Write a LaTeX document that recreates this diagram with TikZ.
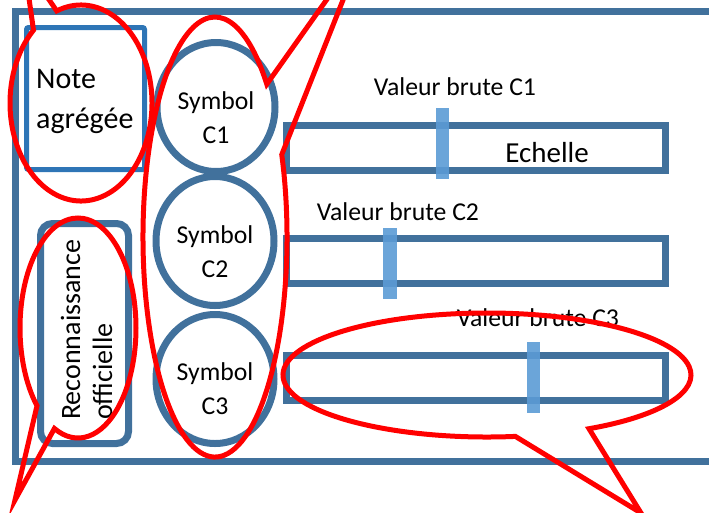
\documentclass[tikz,border=0pt]{standalone}
\usepackage{fontspec}
\setmainfont{Carlito}
\usetikzlibrary{shapes.geometric}
\definecolor{bleu}{HTML}{41719C}
\definecolor{bleuvif}{HTML}{2E75B6}
\definecolor{bleuclair}{HTML}{5B9BD5}

\begin{document}
\begin{tikzpicture}
  [x=1pt,y=-1pt,
   cadre/.style={draw=bleu,line width=7pt},
   symb/.style={ellipse,draw=bleu,line width=7pt,minimum width=118pt,minimum height=129pt,inner sep=0pt},
   barre/.style={rectangle,draw=bleu,line width=7pt,minimum width=379pt,minimum height=45pt,inner sep=0pt},
   curseur/.style={rectangle,fill=bleuclair,fill opacity=0.9,minimum width=13pt,minimum height=71pt,inner sep=0pt},
   etiq/.style={font=\fontsize{25.7}{34}\selectfont,inner sep=0pt,anchor=base},
   bulle/.style={draw=red,line width=5pt}]
  \useasboundingbox (0,0) rectangle (709,512);
  \clip (0,0) rectangle (709,512);

  % cadre
  \draw[cadre] (15,11) rectangle (740,461);

  % note et reconnaissance
  \node[draw=bleuvif,line width=5pt,rounded corners=2pt,minimum width=118pt,minimum height=142pt] (note) at (85.5,98.5) {};
  \node[anchor=base west,align=left,inner sep=0pt,font=\fontsize{30}{40}\selectfont] (tnote) at (36,128) {Note\\agrégée};
  \node[cadre,rounded corners=12pt,minimum width=88pt,minimum height=220pt] (reco) at (84.5,333.5) {};
  \node[rotate=90,anchor=base west,align=left,inner sep=0pt,font=\fontsize{28}{32}\selectfont]
        (treco) at (112,420) {Reconnaissance\\officielle};

  % symboles
  \node[symb] (s1) at (216,107) {};
  \node[symb] (s2) at (215,241) {};
  \node[symb] (s3) at (215,379) {};
  \node[etiq,align=center] (ts1) at (216,143) {Symbol\\C1};
  \node[etiq,align=center] (ts2) at (215,277) {Symbol\\C2};
  \node[etiq,align=center] (ts3) at (215,414) {Symbol\\C3};

  % echelles
  \node[barre] (e1) at (475.5,147.5) {};
  \node[barre] (e2) at (475.5,261) {};
  \node[barre] (e3) at (475.5,377.5) {};
  \node[curseur] (m1) at (442.5,143.5) {};
  \node[curseur,minimum width=14pt] (m2) at (389.5,263.5) {};
  \node[curseur] (m3) at (533.5,377.5) {};
  \node[etiq] (v1) at (455,95) {Valeur brute C1};
  \node[etiq] (v2) at (398,220) {Valeur brute C2};
  \node[etiq] (v3) at (538,326) {Valeur brute C3};
  \node[etiq,font=\fontsize{29}{34}\selectfont] (ech) at (547,162) {Echelle};

  % bulles
  \coordinate (pnote) at (24,-37);
  \coordinate (psymb) at (364,-53);
  \coordinate (preco) at (15,500);
  \coordinate (pval) at (641,513);
  \draw[bulle,shift={(81,103)}] (250:71 and 98)
    arc[start angle=250,end angle=588,x radius=71,y radius=98] -- (pnote) -- cycle;
  \draw[bulle,shift={(215,237)}] (338:72 and 220)
    arc[start angle=338,end angle=676,x radius=72,y radius=220] -- (psymb) -- cycle;
  \draw[bulle,shift={(78,328)}] (135:58 and 110)
    arc[start angle=135,end angle=474,x radius=58,y radius=110] -- (preco) -- cycle;
  \draw[bulle,shift={(487,375)}] (82:204 and 62)
    arc[start angle=82,end angle=420,x radius=204,y radius=62] -- (pval) -- cycle;

\end{tikzpicture}
\end{document}
